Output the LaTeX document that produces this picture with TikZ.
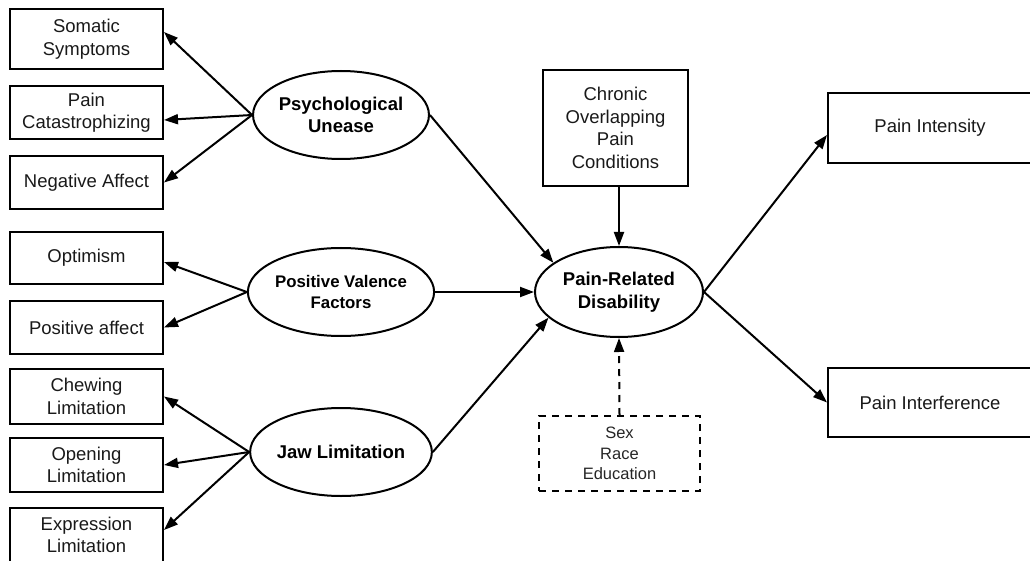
\documentclass[tikz,border=0pt]{standalone}
\usepackage{fontspec}
\setmainfont{Liberation Sans}
\usetikzlibrary{arrows.meta,shapes.geometric,calc}

\begin{document}
\begin{tikzpicture}[x=1pt,y=-1pt,
  box/.style={draw, line width=2pt, align=center, inner sep=0pt,
    text=black!90, font=\fontsize{18.5}{22.5}\selectfont},
  leftbox/.style={box, minimum width=153pt},
  latent/.style={draw, ellipse, line width=2pt, align=center, inner sep=0pt,
    minimum width=152pt, minimum height=88pt,
    font=\bfseries\fontsize{18.5}{22.5}\selectfont},
  covbox/.style={draw, dash pattern=on 7pt off 6pt, line width=2pt,
    align=center, inner sep=0pt, text=black!85,
    font=\fontsize{16.5}{20.5}\selectfont},
  link/.style={line width=2pt, -{Triangle[length=14pt,width=10pt]}}
]
\useasboundingbox (0,0) rectangle (1030,561);

% observed indicators
\node[leftbox, minimum height=60pt] (som) at (86.5,39)    {Somatic\\Symptoms};
\node[leftbox, minimum height=53pt] (cat) at (86.5,112.5) {Pain\\Catastrophizing};
\node[leftbox, minimum height=53pt] (neg) at (86.5,182.5) {Negative Affect};
\node[leftbox, minimum height=52pt] (opt) at (86.5,258)   {Optimism};
\node[leftbox, minimum height=53pt] (pos) at (86.5,327.5) {Positive affect};
\node[leftbox, minimum height=55pt] (chw) at (86.5,396.5) {Chewing\\Limitation};
\node[leftbox, minimum height=54pt] (opn) at (86.5,465)   {Opening\\Limitation};
\node[leftbox, minimum height=54pt] (exl) at (86.5,535)   {Expression\\Limitation};

% latent factors
\node[latent] (pu)  at (341,115) {Psychological\\Unease};
\node[latent, font=\bfseries\fontsize{16.8}{21}\selectfont] (pvf) at (341,292) {Positive Valence\\Factors};
\node[latent] (jl)  at (341,452) {Jaw Limitation};
\node[latent, minimum width=168pt, minimum height=90pt] (prd) at (619,292) {Pain-Related\\Disability};

% other variables
\node[box, minimum width=145pt, minimum height=116pt] (cop) at (615.5,128) {Chronic\\Overlapping\\Pain\\Conditions};
\node[covbox, minimum width=161pt, minimum height=75pt] (cov) at (619.5,453.5) {Sex\\Race\\Education};
\node[box, minimum width=204pt, minimum height=70pt] (pint) at (930,128)   {Pain Intensity};
\node[box, minimum width=204pt, minimum height=69pt] (pinf) at (930,402.5) {Pain Interference};

% loadings
\draw[link] (pu.west) -- ([yshift=7pt]som.east);
\draw[link] (pu.west) -- ([yshift=-7.5pt]cat.east);
\draw[link] (pu.west) -- (neg.east);
\draw[link] (pvf.west) -- ([yshift=-4pt]opt.east);
\draw[link] (pvf.west) -- (pos.east);
\draw[link] (jl.west) -- (chw.east);
\draw[link] (jl.west) -- (opn.east);
\draw[link] (jl.west) -- ([yshift=5pt]exl.east);

% structural paths
\draw[link] (pu.east) -- (prd.156);
\draw[link] (pvf.east) -- (prd.west);
\draw[link] (jl.east) -- (prd.200);
\draw[link] (prd.north |- cop.south) -- (prd.north);
\draw[link, dash pattern=on 7pt off 6pt] (cov.north) -- (prd.south);
\draw[link] (prd.east) -- ([yshift=-7pt]pint.west);
\draw[link] (prd.east) -- (pinf.west);
\end{tikzpicture}
\end{document}
